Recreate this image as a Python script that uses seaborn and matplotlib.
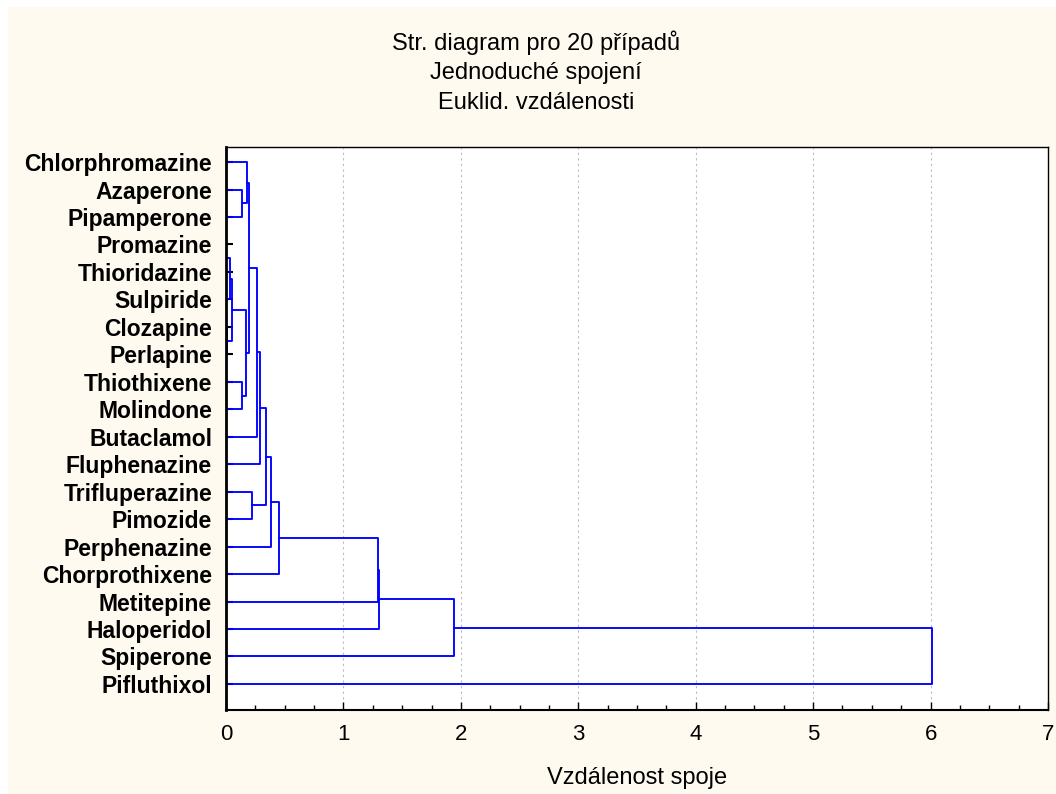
import numpy as np
import pandas as pd
import matplotlib
matplotlib.use("Agg")
import matplotlib.pyplot as plt
import seaborn as sns
from matplotlib.ticker import MultipleLocator
from matplotlib.patches import Rectangle

# ---------------- data ----------------
leaves = ["Chlorphromazine", "Azaperone", "Pipamperone", "Promazine", "Thioridazine",
          "Sulpiride", "Clozapine", "Perlapine", "Thiothixene", "Molindone",
          "Butaclamol", "Fluphenazine", "Trifluperazine", "Pimozide", "Perphenazine",
          "Chorprothixene", "Metitepine", "Haloperidol", "Spiperone", "Pifluthixol"]

# merges (single linkage): upper member, lower member, linkage distance
merge_upper = ["Promazine", "C1", "Clozapine", "C2", "Thiothixene", "C4", "Azaperone",
               "Chlorphromazine", "C8", "C9", "C10", "Trifluperazine", "C11", "C13",
               "C14", "C15", "C16", "C17", "C18"]
merge_lower = ["Thioridazine", "Sulpiride", "Perlapine", "C3", "Molindone", "C5",
               "Pipamperone", "C7", "C6", "Butaclamol", "Fluphenazine", "Pimozide",
               "C12", "Perphenazine", "Chorprothixene", "Metitepine", "Haloperidol",
               "Spiperone", "Pifluthixol"]
merge_dist = [0.004, 0.035, 0.008, 0.050, 0.134, 0.168, 0.139, 0.180, 0.196, 0.262,
              0.290, 0.225, 0.337, 0.382, 0.452, 1.294, 1.300, 1.940, 6.015]

x_ticks = [0, 1, 2, 3, 4, 5, 6, 7]
title_lines = ["Str. diagram pro 20 případů", "Jednoduché spojení", "Euklid. vzdálenosti"]
x_label = "Vzdálenost spoje"

# ---------------- build link paths ----------------
pos = {name: float(i) for i, name in enumerate(leaves)}
height = {name: 0.0 for name in leaves}
rows = []
for k, (a, b, d) in enumerate(zip(merge_upper, merge_lower, merge_dist), start=1):
    cid = f"C{k}"
    xs = [height[a], d, d, height[b]]
    ys = [pos[a], pos[a], pos[b], pos[b]]
    for j, (xx, yy) in enumerate(zip(xs, ys)):
        rows.append({"link": cid, "order": j, "dist": xx, "row": yy})
    pos[cid] = (pos[a] + pos[b]) / 2
    height[cid] = d
df = pd.DataFrame(rows)

# ---------------- figure ----------------
sns.set_theme(style="white")
plt.rcParams["font.family"] = ["Liberation Sans", "DejaVu Sans"]
plt.rcParams["text.color"] = "black"
plt.rcParams["axes.labelcolor"] = "black"
plt.rcParams["xtick.color"] = "black"
plt.rcParams["ytick.color"] = "black"

W, H = 1056, 794
fig = plt.figure(figsize=(W / 100, H / 100), dpi=100, facecolor="white")
fig.patches.append(Rectangle((8 / W, 0), 1 - 8 / W, 1 - 7 / H, transform=fig.transFigure,
                             facecolor="#FFFAF0", edgecolor="none", zorder=-10))

left, right, top, bottom = 226, 1048, 147, 710
ax = fig.add_axes([left / W, 1 - bottom / H, (right - left) / W, (bottom - top) / H])
ax.set_facecolor("white")

sns.lineplot(data=df, x="dist", y="row", units="link", estimator=None, sort=False,
             color="#0000FF", linewidth=1.35, ax=ax, legend=False)

ax.set_xlim(0, 7)
ax.set_ylim(len(leaves) - 1 + 0.95, -0.55)
ax.xaxis.set_major_locator(MultipleLocator(1))
ax.xaxis.set_minor_locator(MultipleLocator(0.25))
ax.set_xticks(x_ticks)
ax.set_xticklabels([str(t) for t in x_ticks], fontsize=16)
ax.set_yticks(range(len(leaves)))
ax.set_yticklabels(leaves, fontsize=16.5, fontweight="bold")
ax.tick_params(axis="x", which="major", direction="in", length=6, width=1.0,
               color="black", labelcolor="black", pad=10, bottom=True, top=False)
ax.tick_params(axis="x", which="minor", direction="in", length=3.5, width=1.0,
               color="black", bottom=True, top=False)
ax.tick_params(axis="y", which="major", direction="in", length=5, width=1.5,
               color="black", labelcolor="black", pad=10, left=True, right=False)
ax.grid(False)
for xv in x_ticks[1:-1]:
    ax.axvline(xv, color="#BBBBBB", linestyle=(0, (2, 3)), linewidth=0.8, zorder=0)
for s in ax.spines.values():
    s.set_color("black")
    s.set_linewidth(1.0)
ax.spines["left"].set_linewidth(2.0)
ax.spines["bottom"].set_linewidth(1.5)
ax.set_xlabel(x_label, fontsize=17, labelpad=16, color="black")
ax.set_ylabel("")

for i, line in enumerate(title_lines):
    fig.text(536 / W, 1 - (43 + 30 * i) / H, line, ha="center", va="center",
             fontsize=17, color="black")

fig.savefig("out.png", dpi=100, facecolor=fig.get_facecolor())
